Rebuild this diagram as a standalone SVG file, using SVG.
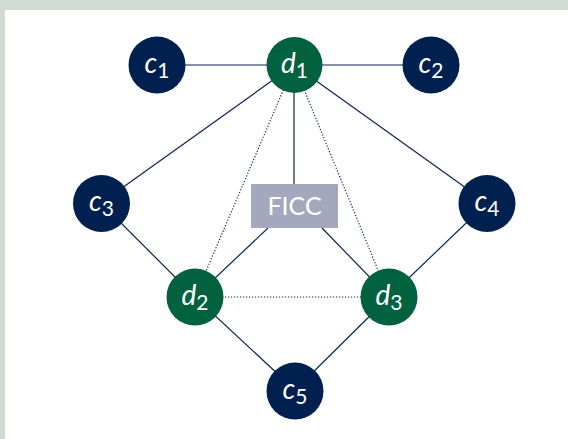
<svg xmlns="http://www.w3.org/2000/svg" width="568" height="439" viewBox="0 0 568 439">
<style>
.e{stroke:#0d2453;stroke-width:1.2;fill:none}
.dot{stroke:#0d2453;stroke-width:1.2;stroke-dasharray:1.2 1.8;fill:none}
.nc{fill:#00204f}
.nd{fill:#02613e}
.lb{font-family:Lato,"Open Sans",sans-serif;fill:#ffffff;text-anchor:middle}
.v{font-style:italic;font-size:28px}
.s{font-size:21px}
</style>
<rect x="0" y="0" width="568" height="439" fill="#cfdbd3"/>
<rect x="5" y="10" width="563" height="429" fill="#ffffff"/>
<g id="connectors">
<line class="e" x1="157" y1="65" x2="294" y2="65"/>
<line class="e" x1="294" y1="65" x2="430" y2="65"/>
<line class="e" x1="294" y1="65" x2="101" y2="203"/>
<line class="e" x1="294" y1="65" x2="487" y2="203"/>
<line class="e" x1="294" y1="65" x2="294" y2="184"/>
<line class="e" x1="101" y1="203" x2="195" y2="297"/>
<line class="e" x1="487" y1="203" x2="389" y2="297"/>
<line class="e" x1="268" y1="228" x2="195" y2="297"/>
<line class="e" x1="322" y1="228" x2="389" y2="297"/>
<line class="e" x1="195" y1="297" x2="295" y2="390"/>
<line class="e" x1="389" y1="297" x2="295" y2="390"/>
<line class="dot" x1="294" y1="65" x2="195" y2="297"/>
<line class="dot" x1="294" y1="65" x2="389" y2="297"/>
<line class="dot" x1="195" y1="297" x2="389" y2="297"/>
</g>
<g id="c1"><circle class="nc" cx="157" cy="65" r="28.5"/><text class="lb" x="157" y="73"><tspan class="v">c</tspan><tspan class="s" dy="5">1</tspan></text></g>
<g id="d1"><circle class="nd" cx="294.5" cy="65" r="28"/><text class="lb" x="294.5" y="73"><tspan class="v">d</tspan><tspan class="s" dy="5">1</tspan></text></g>
<g id="c2"><circle class="nc" cx="431" cy="65" r="28.5"/><text class="lb" x="431" y="73"><tspan class="v">c</tspan><tspan class="s" dy="5">2</tspan></text></g>
<g id="c3"><circle class="nc" cx="101.5" cy="203.5" r="28.5"/><text class="lb" x="101.5" y="211"><tspan class="v">c</tspan><tspan class="s" dy="5">3</tspan></text></g>
<g id="c4"><circle class="nc" cx="487" cy="203.5" r="28.5"/><text class="lb" x="487" y="211"><tspan class="v">c</tspan><tspan class="s" dy="5">4</tspan></text></g>
<g id="FICC"><rect x="251" y="184" width="87" height="44" fill="#a3a8bf"/><text x="294.5" y="215" font-family="Lato,'Open Sans',sans-serif" font-size="25" fill="#ffffff" text-anchor="middle">FICC</text></g>
<g id="d2"><circle class="nd" cx="195" cy="297" r="28.5"/><text class="lb" x="195" y="305"><tspan class="v">d</tspan><tspan class="s" dy="5">2</tspan></text></g>
<g id="d3"><circle class="nd" cx="389" cy="297" r="28.5"/><text class="lb" x="389" y="305"><tspan class="v">d</tspan><tspan class="s" dy="5">3</tspan></text></g>
<g id="c5"><circle class="nc" cx="295" cy="391" r="28.5"/><text class="lb" x="295" y="399"><tspan class="v">c</tspan><tspan class="s" dy="5">5</tspan></text></g>
</svg>
